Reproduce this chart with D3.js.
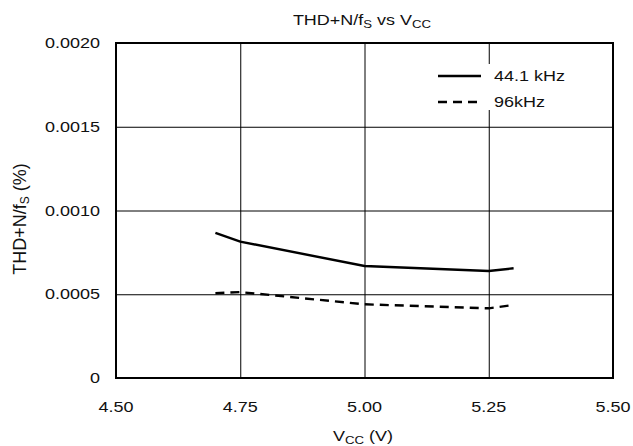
<!DOCTYPE html>
<html><head><meta charset="utf-8">
<script src="https://cdn.jsdelivr.net/npm/d3@7"></script>
<style>body{margin:0;background:#fff}svg{display:block}text{font-family:"Liberation Sans",Arial,Helvetica,sans-serif;fill:#111}</style>
</head><body>
<script>
const vcc = [4.70, 4.75, 5.00, 5.25, 5.30];
const thd441 = [0.000867, 0.000814, 0.000669, 0.000639, 0.000655];
const thd96 = [0.000506, 0.000513, 0.000440, 0.000416, 0.000436];
const xTicks = [4.50, 4.75, 5.00, 5.25, 5.50];
const xTickLabels = ["4.50", "4.75", "5.00", "5.25", "5.50"];
const yTicks = [0, 0.0005, 0.0010, 0.0015, 0.0020];
const yTickLabels = ["0", "0.0005", "0.0010", "0.0015", "0.0020"];
const seriesNames = ["44.1 kHz", "96kHz"];

const W = 633, H = 446;
const L = 116, R = 613, T = 43, B = 378;
const SX = 1.2, FS = 15, SUB = 11;

const svg = d3.select("body").append("svg").attr("width", W).attr("height", H);
const x = d3.scaleLinear().domain([4.5, 5.5]).range([L, R]);
const y = d3.scaleLinear().domain([0, 0.002]).range([B, T]);

// gridlines via axes
const gx = svg.append("g").attr("transform", `translate(0,${B})`)
  .call(d3.axisBottom(x).tickValues(xTicks).tickSize(-(B - T)).tickFormat(""));
gx.select(".domain").remove();
gx.selectAll("line").attr("stroke", "#000").attr("stroke-width", 1);
const gy = svg.append("g").attr("transform", `translate(${L},0)`)
  .call(d3.axisLeft(y).tickValues(yTicks).tickSize(-(R - L)).tickFormat(""));
gy.select(".domain").remove();
gy.selectAll("line").attr("stroke", "#000").attr("stroke-width", 1);

function stretchText(g, xx, yy, anchor) {
  return g.append("text").attr("transform", `translate(${xx},${yy}) scale(${SX},1)`)
    .attr("text-anchor", anchor).attr("font-size", FS);
}

// tick labels
xTicks.forEach((v, i) => {
  stretchText(svg, x(v), 412, "middle").text(xTickLabels[i]);
});
yTicks.forEach((v, i) => {
  stretchText(svg, 100, y(v) + 5, "end").text(yTickLabels[i]);
});

// data lines
const line = d3.line().x(d => x(d[0])).y(d => y(d[1]));
svg.append("path").datum(vcc.map((v, i) => [v, thd441[i]]))
  .attr("d", line).attr("fill", "none").attr("stroke", "#000").attr("stroke-width", 2.4);
svg.append("path").datum(vcc.map((v, i) => [v, thd96[i]]))
  .attr("d", line).attr("fill", "none").attr("stroke", "#000").attr("stroke-width", 2.4)
  .attr("stroke-dasharray", "9,6");

// frame
svg.append("rect").attr("x", L).attr("y", T).attr("width", R - L).attr("height", B - T)
  .attr("fill", "none").attr("stroke", "#000").attr("stroke-width", 2);

// legend
const lg = svg.append("g");
lg.append("rect").attr("x", 432).attr("y", 64).attr("width", 118).attr("height", 46).attr("fill", "#fff");
lg.append("line").attr("x1", 438).attr("x2", 481).attr("y1", 76).attr("y2", 76)
  .attr("stroke", "#000").attr("stroke-width", 2.4);
lg.append("line").attr("x1", 438).attr("x2", 481).attr("y1", 102).attr("y2", 102)
  .attr("stroke", "#000").attr("stroke-width", 2.4).attr("stroke-dasharray", "9,6");
stretchText(lg, 494, 81, "start").text(seriesNames[0]);
stretchText(lg, 494, 107, "start").text(seriesNames[1]);

// title
const title = stretchText(svg, 362, 25, "middle");
title.append("tspan").text("THD+N/f");
title.append("tspan").attr("font-size", SUB).attr("dy", 3).text("S");
title.append("tspan").attr("dy", -3).text(" vs V");
title.append("tspan").attr("font-size", SUB).attr("dy", 3).text("CC");

// x axis title
const xt = stretchText(svg, 363, 441, "middle");
xt.append("tspan").text("V");
xt.append("tspan").attr("font-size", SUB).attr("dy", 3).text("CC");
xt.append("tspan").attr("dy", -3).text(" (V)");

// y axis title
const yt = svg.append("text").attr("transform", `translate(26,219) rotate(-90)`)
  .attr("text-anchor", "middle").attr("font-size", 18);
yt.append("tspan").text("THD+N/f");
yt.append("tspan").attr("font-size", 12).attr("dy", 3).text("S");
yt.append("tspan").attr("dy", -3).text(" (%)");
</script>
</body></html>
